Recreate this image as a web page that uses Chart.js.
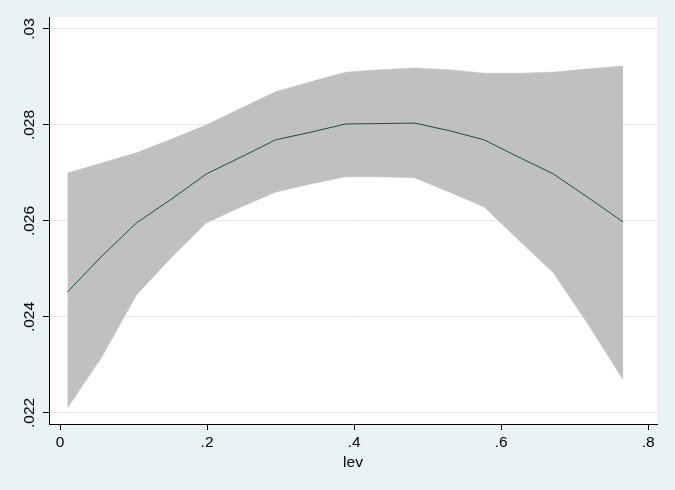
<!DOCTYPE html>
<html>
<head>
<meta charset="utf-8">
<script src="https://cdn.jsdelivr.net/npm/chart.js@4.4.1/dist/chart.umd.min.js"></script>
<style>
  html, body { margin: 0; padding: 0; background: #eaf2f3; }
  #plot { display: block; }
</style>
</head>
<body>
<canvas id="plot" width="675" height="490"></canvas>
<script>
// lev grid points and the fitted values with their confidence band
const levX = [0.010, 0.057, 0.104, 0.152, 0.199, 0.246, 0.293, 0.341, 0.388,
              0.435, 0.482, 0.530, 0.577, 0.624, 0.671, 0.719, 0.766];
const fitValues = [0.02452, 0.02527, 0.02596, 0.02646, 0.02698, 0.02733, 0.02769, 0.02785, 0.02802,
                   0.02803, 0.02804, 0.02788, 0.02769, 0.02733, 0.02698, 0.02648, 0.02598];
const ciUpper = [0.02700, 0.02721, 0.02742, 0.02771, 0.02800, 0.02835, 0.02869, 0.02890, 0.02910,
                 0.02915, 0.02919, 0.02915, 0.02908, 0.02908, 0.02910, 0.02917, 0.02923];
const ciLower = [0.02210, 0.02317, 0.02446, 0.02525, 0.02596, 0.02629, 0.02660, 0.02677, 0.02692,
                 0.02692, 0.02690, 0.02660, 0.02629, 0.02560, 0.02492, 0.02383, 0.02269];
const xTicks = [0, 0.2, 0.4, 0.6, 0.8];
const yTicks = [0.022, 0.024, 0.026, 0.028, 0.03];
const xTitle = 'lev';

const FONT = 'Liberation Sans, Arial, sans-serif';

function stataLabel(v) {
  // Stata drops the leading zero: .2, .024
  if (v === 0) return '0';
  return String(+v.toFixed(4)).replace(/^0\./, '.');
}

const pts = arr => arr.map((y, i) => ({ x: levX[i], y: y }));

const backdrop = {
  id: 'backdrop',
  beforeDraw(chart) {
    const { ctx, chartArea: a } = chart;
    ctx.save();
    ctx.fillStyle = '#eaf2f3';
    ctx.fillRect(0, 0, chart.width, chart.height);
    ctx.fillStyle = '#ffffff';
    ctx.fillRect(a.left, a.top, a.right - a.left, a.bottom - a.top);
    ctx.restore();
  },
  afterDraw(chart) {
    const { ctx, chartArea: a } = chart;
    const ys = chart.scales.y;
    ctx.save();
    ctx.fillStyle = '#000000';
    ctx.font = '15.5px ' + FONT;
    ctx.textAlign = 'center';
    ctx.textBaseline = 'middle';
    yTicks.forEach(v => {
      const py = ys.getPixelForValue(v);
      ctx.save();
      ctx.translate(30, py);
      ctx.rotate(-Math.PI / 2);
      ctx.fillText(stataLabel(v), 0, 0);
      ctx.restore();
    });
    ctx.fillText(xTitle, (a.left + a.right) / 2, 463);
    ctx.restore();
  }
};

new Chart(document.getElementById('plot'), {
  type: 'scatter',
  data: {
    datasets: [
      {
        label: 'fit',
        data: pts(fitValues),
        order: 0,
        showLine: true,
        fill: false,
        borderColor: '#1a4d45',
        borderWidth: 1,
        pointRadius: 0,
        tension: 0
      },
      {
        label: 'upper',
        data: pts(ciUpper),
        order: 1,
        showLine: true,
        fill: '+1',
        backgroundColor: '#c0c0c0',
        borderColor: '#c0c0c0',
        borderWidth: 0.5,
        pointRadius: 0,
        tension: 0
      },
      {
        label: 'lower',
        data: pts(ciLower),
        order: 2,
        showLine: true,
        fill: false,
        borderColor: '#c0c0c0',
        borderWidth: 0.5,
        pointRadius: 0,
        tension: 0
      }
    ]
  },
  options: {
    responsive: false,
    animation: false,
    layout: { padding: { top: 17, right: 18, left: 0, bottom: 0 } },
    plugins: {
      legend: { display: false },
      tooltip: { enabled: false },
      filler: { drawTime: 'beforeDatasetsDraw' }
    },
    scales: {
      x: {
        type: 'linear',
        min: -0.015,
        max: 0.812,
        afterBuildTicks: s => { s.ticks = xTicks.map(v => ({ value: v })); },
        afterFit: s => { s.height = 66; },
        grid: {
          drawOnChartArea: false,
          tickLength: 6,
          tickColor: '#000000'
        },
        border: { display: true, color: '#000000', width: 1 },
        ticks: {
          color: '#000000',
          padding: 3,
          maxRotation: 0,
          font: { family: FONT, size: 15.5 },
          callback: v => stataLabel(v)
        }
      },
      y: {
        type: 'linear',
        min: 0.02177,
        max: 0.03025,
        afterBuildTicks: s => { s.ticks = yTicks.map(v => ({ value: v })); },
        afterFit: s => { s.width = 49; },
        grid: {
          color: '#e4eaec',
          lineWidth: 1,
          tickLength: 6,
          tickColor: '#000000'
        },
        border: { display: true, color: '#000000', width: 1 },
        ticks: { display: false }
      }
    }
  },
  plugins: [backdrop]
});
</script>
</body>
</html>
